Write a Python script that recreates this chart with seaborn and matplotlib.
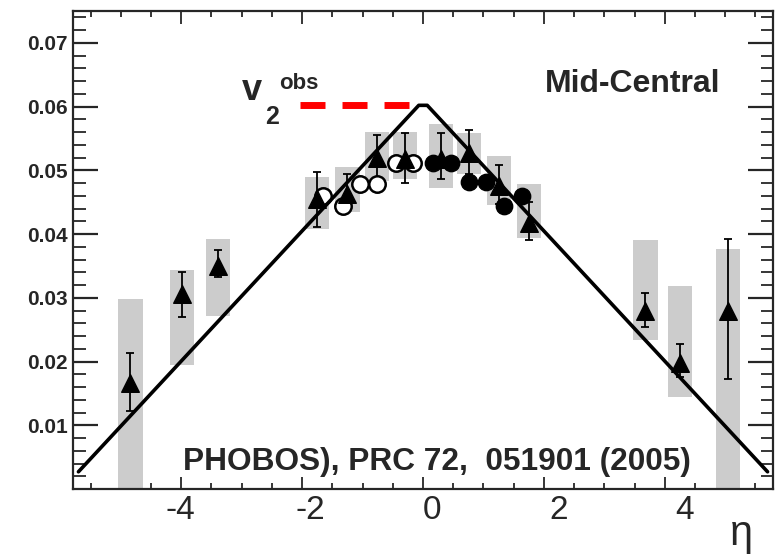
"""
v2 vs eta, PHOBOS mid-central with a triangle guide
"""
import numpy as np
import pandas as pd
import seaborn as sns
import matplotlib.pyplot as plt
from matplotlib.ticker import MultipleLocator, FixedLocator
from matplotlib.transforms import ScaledTranslation

# %% data
eta_tri = [-4.84, -3.99, -3.39, -1.75, -1.25, -0.76, -0.30, 0.30,
           0.76, 1.26, 1.76, 3.68, 4.25, 5.05]
v2_tri = [0.0167, 0.0306, 0.0350, 0.0455, 0.0463, 0.0520, 0.0517, 0.0518,
          0.0527, 0.0476, 0.0418, 0.0280, 0.0198, 0.0280]
err_hi = [0.0214, 0.0341, 0.0375, 0.0498, 0.0495, 0.0555, 0.0558, 0.0558,
          0.0564, 0.0509, 0.0450, 0.0308, 0.0228, 0.0392]
err_lo = [0.0123, 0.0270, 0.0333, 0.0411, 0.0439, 0.0478, 0.0480, 0.0486,
          0.0494, 0.0447, 0.0391, 0.0254, 0.0175, 0.0172]
sys_hi = [0.0298, 0.0344, 0.0392, 0.0489, 0.0505, 0.0560, 0.0560, 0.0572,
          0.0558, 0.0522, 0.0478, 0.0391, 0.0319, 0.0377]
sys_lo = [0.0, 0.0195, 0.0272, 0.0408, 0.0434, 0.0483, 0.0487, 0.0472,
          0.0494, 0.0445, 0.0394, 0.0234, 0.0145, 0.0]

eta_open = [-1.65, -1.32, -1.04, -0.76, -0.45, -0.17]
v2_open = [0.0459, 0.0444, 0.0478, 0.0478, 0.0511, 0.0511]
eta_full = [0.17, 0.46, 0.76, 1.05, 1.34, 1.63]
v2_full = [0.0511, 0.0511, 0.0481, 0.0481, 0.0444, 0.0459]

eta_guide = [-5.70, -0.07, 0.07, 5.70]
v2_guide = [0.0027, 0.0602, 0.0602, 0.0027]

eta_obs = [-2.03, -0.23]
v2_obs = [0.0602, 0.0602]

BOX_W = 0.4

# %% style
sns.set_style('ticks')
plt.rcParams['font.family'] = ['Liberation Sans', 'DejaVu Sans']

fig = plt.figure(figsize=(7.75, 5.58), dpi=100)
ax = fig.add_axes([73 / 775, 69 / 558, 700 / 775, 478 / 558])

tri = pd.DataFrame({'eta': eta_tri, 'v2': v2_tri})

# systematic boxes
ax.bar(eta_tri, np.array(sys_hi) - np.array(sys_lo), bottom=sys_lo,
       width=BOX_W, color='#cccccc', linewidth=0, zorder=1)

# stat error bars
ax.errorbar(eta_tri, v2_tri,
            yerr=[np.array(v2_tri) - np.array(err_lo),
                  np.array(err_hi) - np.array(v2_tri)],
            fmt='none', ecolor='black', elinewidth=1.3, capsize=3,
            capthick=1.3, zorder=2)

sns.scatterplot(x=eta_open, y=v2_open, marker='o', s=140,
                facecolor='white', edgecolor='black', linewidth=1.8,
                ax=ax, zorder=3)
sns.scatterplot(x=eta_full, y=v2_full, marker='o', s=140,
                color='black', edgecolor='black', ax=ax, zorder=3)
sns.scatterplot(tri, x='eta', y='v2', marker='^', s=160,
                color='black', edgecolor='black', ax=ax, zorder=4)

sns.lineplot(x=eta_guide, y=v2_guide, sort=False, color='black',
             linewidth=2.6, ax=ax, zorder=5)
ax.plot(eta_obs, v2_obs, color='red', linewidth=5, dashes=(3.6, 2.45),
        solid_capstyle='butt', dash_capstyle='butt', zorder=5)

# %% axes
ax.set_xlim(-5.79, 5.79)
ax.set_ylim(0, 0.075)
ax.xaxis.set_major_locator(FixedLocator([-4, -2, 0, 2, 4]))
ax.xaxis.set_minor_locator(MultipleLocator(0.5))
ax.yaxis.set_major_locator(FixedLocator([0.01, 0.02, 0.03, 0.04, 0.05,
                                         0.06, 0.07]))
ax.yaxis.set_minor_locator(MultipleLocator(0.002))
ax.set_xticklabels(['-4', '-2', '0', '2', '4'])
ax.set_yticklabels(['0.01', '0.02', '0.03', '0.04', '0.05', '0.06', '0.07'])

for s in ax.spines.values():
    s.set_linewidth(1.6)
    s.set_visible(True)

ax.tick_params(axis='x', which='major', direction='in', length=9,
               width=1.3, top=True, bottom=True, labelsize=24, pad=4)
ax.tick_params(axis='x', which='minor', direction='in', length=4.5,
               width=1.3, top=True, bottom=True)
ax.tick_params(axis='y', which='major', direction='in', length=18,
               width=1.6, left=True, right=True, labelsize=15, pad=4)
ax.tick_params(axis='y', which='minor', direction='in', length=9,
               width=1.3, left=True, right=True)
for lab in ax.get_yticklabels():
    lab.set_fontweight('bold')

# the x labels in the original drift to the right of their ticks
shifts = [-1, 8, 9, 15, 20]
for lab, dx in zip(ax.get_xticklabels(), shifts):
    lab.set_transform(lab.get_transform()
                      + ScaledTranslation(dx / 100, 0, fig.dpi_scale_trans))

ax.set_xlabel('')
ax.set_ylabel('')

# %% text
ax.text(-3.0, 0.0611, 'v', fontsize=26, fontweight='bold')
ax.text(-2.61, 0.0573, '2', fontsize=18, fontweight='bold')
ax.text(-2.38, 0.0628, 'obs', fontsize=16, fontweight='bold')
ax.text(2.02, 0.0623, 'Mid-Central', fontsize=23, fontweight='bold')
ax.text(-3.97, 0.0030, 'PHOBOS), PRC 72,  051901 (2005)', fontsize=22.8,
        fontweight='bold')
fig.text(741 / 775, 13 / 558, 'η', fontsize=30, ha='center',
         va='baseline')

fig.savefig('out.png', dpi=100)
